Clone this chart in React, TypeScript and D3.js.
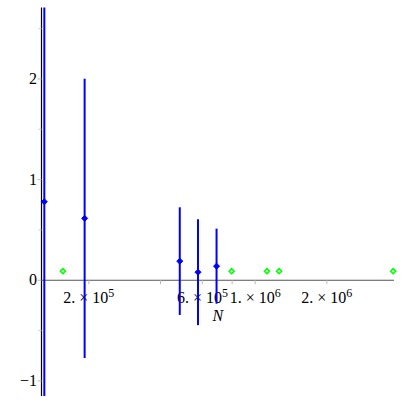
import * as React from "react";
import * as d3 from "d3";

// blue series: estimate with error bar
const blueN = [1.3e5, 1.92e5, 4.82e5, 5.75e5, 6.88e5];
const blueY = [0.78, 0.615, 0.19, 0.08, 0.14];
const blueErr = [1.93, 1.387, 0.535, 0.526, 0.373];

// green series
const greenN = [1.556e5, 7.96e5, 1.12e6, 1.26e6, 3.8e6];
const greenY = [0.09, 0.09, 0.09, 0.09, 0.09];

// axis ticks
const xMajor = [2e5, 6e5, 1e6, 2e6];
const xMajorMant = ["2.", "6.", "1.", "2."];
const xMajorExp = ["5", "5", "6", "6"];
const xMinor = [4e5, 8e5];
const yMajor = [-1, 0, 1, 2];
const yMinor = [-0.5, 0.5, 1.5, 2.5];

const App = () => {
  const width = 405;
  const height = 405;

  const x = d3.scaleLog().domain([1.265e5, 3.83e6]).range([41.5, 394]);
  const y = d3.scaleLinear().domain([-1.15, 2.71]).range([396, 7.5]);

  const font = "Liberation Serif, Times New Roman, serif";
  const x0 = x.range()[0];
  const y0 = y(0);

  const diamond = (cx: number, cy: number, r: number) =>
    `M${cx},${cy - r}L${cx + r},${cy}L${cx},${cy + r}L${cx - r},${cy}Z`;

  return (
    <div style={{ position: "fixed", left: 0, top: 0 }}>
      <svg width={width} height={height} style={{ display: "block", background: "#fff" }}>
        {/* x axis */}
        <line x1={x0} x2={x.range()[1]} y1={y0} y2={y0} stroke="#555" strokeWidth={1.2} />
        {xMajor.concat(xMinor).map((t, i) => (
          <line key={"xt" + i} x1={x(t)} x2={x(t)} y1={y0} y2={y0 + 4} stroke="#bbb" strokeWidth={1} />
        ))}
        {xMajor.map((t, i) => (
          <text key={"xl" + i} x={x(t)} y={303} textAnchor="middle" fontFamily={font} fontSize={16} fill="#000">
            {xMajorMant[i]} × 10
            <tspan fontSize={12} dy={-6}>{xMajorExp[i]}</tspan>
          </text>
        ))}
        <text x={(x.range()[0] + x.range()[1]) / 2} y={321} textAnchor="middle" fontFamily={font} fontStyle="italic" fontSize={16}>
          N
        </text>

        {/* y axis */}
        <line x1={x0} x2={x0} y1={y.range()[1]} y2={y.range()[0]} stroke="#000" strokeWidth={1.2} />
        {yMajor.map((t, i) => (
          <line key={"yt" + i} x1={x0 - 4} x2={x0} y1={y(t)} y2={y(t)} stroke="#bbb" strokeWidth={1} />
        ))}
        {yMinor.map((t, i) => (
          <line key={"ym" + i} x1={x0 - 3} x2={x0} y1={y(t)} y2={y(t)} stroke="#ccc" strokeWidth={1} />
        ))}
        {yMajor.map((t, i) => (
          <text key={"yl" + i} x={37} y={y(t) + 5} textAnchor="end" fontFamily={font} fontSize={16}>
            {t < 0 ? "\u2212" + Math.abs(t) : t}
          </text>
        ))}

        {/* error bars */}
        {blueN.map((n, i) => (
          <g key={"b" + i}>
            <line x1={x(n)} x2={x(n)} y1={y(blueY[i] + blueErr[i])} y2={y(blueY[i] - blueErr[i])} stroke="#0000ff" strokeWidth={2} />
            <path d={diamond(x(n), y(blueY[i]), 3)} fill="#0000ff" stroke="#0000ff" strokeWidth={1} />
          </g>
        ))}

        {greenN.map((n, i) => (
          <path key={"g" + i} d={diamond(x(n), y(greenY[i]), 2.6)} fill="#b8ffb8" stroke="#00ff00" strokeWidth={1.4} />
        ))}
      </svg>
    </div>
  );
};

export default App;
